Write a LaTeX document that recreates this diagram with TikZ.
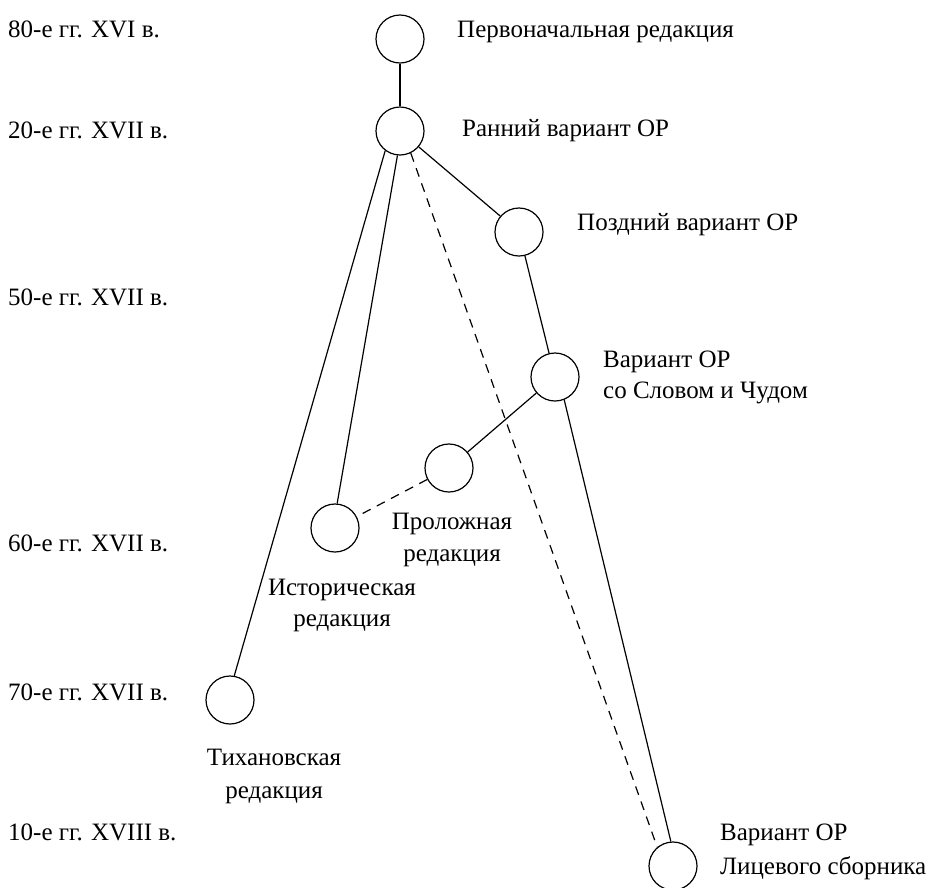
\documentclass[tikz,border=0pt]{standalone}
\usepackage{fontspec}
\setmainfont{Liberation Serif}
\begin{document}
\begin{tikzpicture}[x=1pt,y=-1pt,
  vnode/.style={circle,draw,line width=1.2pt,minimum size=48pt,inner sep=0pt},
  lbl/.style={inner sep=0pt,font=\fontsize{25}{30}\selectfont},
  conn/.style={line width=1.2pt},
  dconn/.style={line width=1.2pt,dash pattern=on 9pt off 7pt}]
\useasboundingbox (0,0) rectangle (935,887);
% time axis labels
\node[lbl,anchor=base west] (t1) at (8,37) {80-е гг. XVI в.};
\node[lbl,anchor=base west] (t2) at (8,138) {20-е гг. XVII в.};
\node[lbl,anchor=base west] (t3) at (8,305) {50-е гг. XVII в.};
\node[lbl,anchor=base west] (t4) at (8,551) {60-е гг. XVII в.};
\node[lbl,anchor=base west] (t5) at (8,700) {70-е гг. XVII в.};
\node[lbl,anchor=base west] (t6) at (8,840) {10-е гг. XVIII в.};
% circles
\node[vnode] (perv) at (400,39) {};
\node[vnode] (ran) at (400,131) {};
\node[vnode] (pozd) at (519,232) {};
\node[vnode] (slovo) at (555,377) {};
\node[vnode] (prol) at (449,468) {};
\node[vnode] (istor) at (335,528) {};
\node[vnode] (tikh) at (230,700) {};
\node[vnode] (lic) at (673,866) {};
% labels
\node[lbl,anchor=base west] (lperv) at (457,37) {Первоначальная редакция};
\node[lbl,anchor=base west] (lran) at (462,136) {Ранний вариант ОР};
\node[lbl,anchor=base west] (lpozd) at (577,230) {Поздний вариант ОР};
\node[lbl,anchor=base west] (lslovoa) at (603,367) {Вариант ОР};
\node[lbl,anchor=base west] (lslovob) at (603,398) {со Словом и Чудом};
\node[lbl,anchor=base] (lprola) at (452,529) {Проложная};
\node[lbl,anchor=base] (lprolb) at (452,561) {редакция};
\node[lbl,anchor=base] (listora) at (342,595) {Историческая};
\node[lbl,anchor=base] (listorb) at (342,626) {редакция};
\node[lbl,anchor=base] (ltikha) at (274,765) {Тихановская};
\node[lbl,anchor=base] (ltikhb) at (274,798) {редакция};
\node[lbl,anchor=base west] (llica) at (720,840) {Вариант ОР};
\node[lbl,anchor=base west] (llicb) at (720,874) {Лицевого сборника};
% connectors
\draw[conn] (perv) -- (ran);
\draw[conn] (ran) -- (pozd);
\draw[conn] (ran.233) -- (tikh.80);
\draw[conn] (ran.264) -- (istor.85);
\draw[dconn] (ran.-64) -- (lic.130);
\draw[conn] (pozd) -- (slovo);
\draw[conn] (slovo.-68) -- (lic.95);
\draw[conn] (slovo) -- (prol);
\draw[dconn] (prol) -- (istor);
\end{tikzpicture}
\end{document}
